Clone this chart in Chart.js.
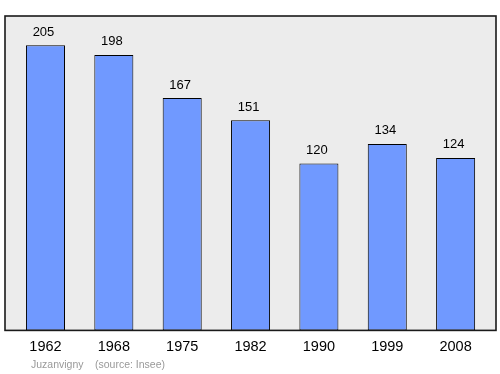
<!DOCTYPE html>
<html>
<head>
<meta charset="utf-8">
<script src="https://cdn.jsdelivr.net/npm/chart.js@4/dist/chart.umd.min.js"></script>
<style>
  html, body { margin: 0; padding: 0; background: #ffffff; }
  #wrap { width: 500px; height: 374px; position: relative; }
</style>
</head>
<body>
<div id="wrap"><canvas id="c" width="500" height="374"></canvas></div>
<script>
const years = ["1962", "1968", "1975", "1982", "1990", "1999", "2008"];
const population = [205, 198, 167, 151, 120, 134, 124];
const footerName = "Juzanvigny";
const footerSource = "(source: Insee)";

const frame = {
  id: 'frame',
  beforeDraw(chart) {
    const { ctx, chartArea: a } = chart;
    const l = a.left - 6.3, r = a.right + 6.2, t = a.top, b = a.bottom;
    ctx.save();
    ctx.fillStyle = '#ececec';
    ctx.fillRect(l, t, r - l, b - t);
    ctx.restore();
  },
  afterDatasetsDraw(chart) {
    const { ctx, chartArea: a } = chart;
    const l = a.left - 6.3, r = a.right + 6.2, t = a.top, b = a.bottom;
    ctx.save();
    ctx.strokeStyle = '#1a1a1a';
    ctx.lineWidth = 1.6;
    ctx.strokeRect(l, t, r - l, b - t);
    // value labels
    ctx.fillStyle = '#000';
    ctx.font = '13px "Liberation Sans", Arial, sans-serif';
    ctx.textAlign = 'center';
    ctx.textBaseline = 'alphabetic';
    const meta = chart.getDatasetMeta(0);
    meta.data.forEach((el, i) => {
      ctx.fillText(String(chart.data.datasets[0].data[i]), el.x - 2, el.y - 9.5);
    });
    // footer
    ctx.fillStyle = '#999';
    ctx.font = '10.5px "Liberation Sans", Arial, sans-serif';
    ctx.textAlign = 'left';
    ctx.fillText(footerName, 31, 368);
    ctx.fillText(footerSource, 95, 368);
    ctx.restore();
  }
};

new Chart(document.getElementById('c'), {
  type: 'bar',
  data: {
    labels: years,
    datasets: [{
      data: population,
      backgroundColor: '#7099ff',
      borderColor: '#000',
      borderWidth: 1,
      borderSkipped: false,
      categoryPercentage: 1,
      barPercentage: 0.571
    }]
  },
  options: {
    responsive: false,
    animation: false,
    devicePixelRatio: 1,
    layout: { padding: { left: 11.3, right: 10.2, top: 16, bottom: 10.2 } },
    plugins: { legend: { display: false }, tooltip: { enabled: false }, title: { display: false } },
    scales: {
      x: {
        grid: { display: false, drawTicks: false },
        border: { display: false },
        ticks: {
          color: '#000',
          padding: 8,
          font: { family: '"Liberation Sans", Arial, sans-serif', size: 14.5 },
          maxRotation: 0
        }
      },
      y: { display: false, min: 0, max: 226 }
    }
  },
  plugins: [frame]
});
</script>
</body>
</html>
